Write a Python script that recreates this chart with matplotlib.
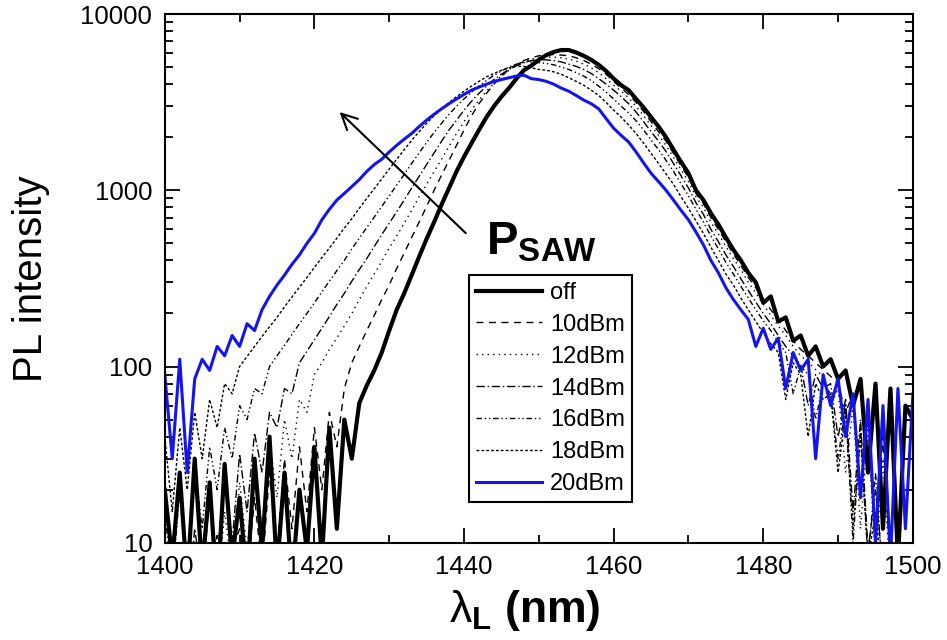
import numpy as np
import matplotlib
matplotlib.use("Agg")
import matplotlib.pyplot as plt
from matplotlib.ticker import LogLocator, MultipleLocator, NullFormatter

plt.rcParams["font.family"] = ["Liberation Sans", "DejaVu Sans"]
plt.rcParams["mathtext.fontset"] = "custom"
plt.rcParams["mathtext.rm"] = "Liberation Sans"
plt.rcParams["mathtext.bf"] = "Liberation Sans:bold"
plt.rcParams["mathtext.it"] = "Liberation Sans:italic"

# wavelength grid of the spectra (nm)
wavelength = np.arange(1400, 1501)

# PL spectra, one value per nm from 1400 to 1500
off = [20, 8, 25, 6, 30, 7, 22, 5, 28, 8,
       18, 6, 30, 9, 40, 7, 25, 6, 20, 9,
       35, 8, 45, 12, 50, 30, 62, 78, 95, 120,
       160, 210, 260, 330, 420, 530, 660, 830, 1030, 1280,
       1550, 1850, 2200, 2600, 3000, 3400, 3800, 4300, 4800, 5100,
       5500, 5850, 6100, 6250, 6250, 6050, 5800, 5500, 5150, 4750,
       4300, 3950, 3700, 3300, 2950, 2600, 2300, 2000, 1700, 1450,
       1250, 1000, 880, 740, 640, 540, 460, 400, 340, 300,
       230, 250, 180, 190, 140, 150, 115, 130, 100, 110,
       85, 95, 60, 85, 25, 80, 12, 75, 8, 60,
       50]

p10 = [6, 9, 5, 10, 6, 8, 5, 11, 6, 9,
       12, 6, 18, 7, 25, 9, 30, 12, 35, 15,
       45, 20, 55, 35, 75, 105, 130, 160, 195, 240,
       290, 360, 440, 540, 660, 810, 1000, 1220, 1480, 1800,
       2200, 2650, 3100, 3550, 4000, 4450, 4850, 5200, 5450, 5650,
       5800, 5850, 5900, 5850, 5800, 5650, 5450, 5200, 4900, 4550,
       4150, 3800, 3500, 3150, 2800, 2450, 2150, 1900, 1620, 1380,
       1180, 960, 840, 700, 600, 510, 435, 375, 320, 280,
       240, 210, 185, 160, 140, 125, 115, 105, 96, 88,
       80, 55, 70, 20, 50, 9, 40, 7, 8, 6,
       5]

p12 = [5, 7, 4, 8, 5, 9, 10, 5, 15, 7,
       22, 9, 30, 12, 38, 18, 50, 30, 65, 55,
       90, 105, 125, 145, 170, 200, 240, 285, 335, 395,
       470, 550, 650, 770, 920, 1080, 1280, 1500, 1780, 2100,
       2450, 2850, 3250, 3650, 4050, 4450, 4800, 5100, 5350, 5550,
       5650, 5700, 5700, 5650, 5550, 5400, 5200, 4950, 4650, 4300,
       3950, 3650, 3350, 3000, 2650, 2330, 2050, 1800, 1540, 1310,
       1120, 920, 800, 660, 565, 480, 410, 355, 300, 262,
       225, 195, 170, 150, 130, 115, 106, 96, 88, 60,
       75, 25, 60, 12, 45, 8, 30, 6, 7, 5,
       5]

p14 = [5, 6, 8, 4, 12, 6, 18, 8, 25, 10,
       32, 15, 42, 25, 55, 45, 75, 70, 105, 122,
       142, 165, 192, 225, 260, 305, 355, 410, 480, 560,
       650, 755, 880, 1030, 1200, 1400, 1630, 1900, 2200, 2500,
       2850, 3200, 3550, 3900, 4250, 4550, 4850, 5100, 5300, 5450,
       5500, 5500, 5450, 5350, 5200, 5050, 4850, 4600, 4300, 4000,
       3700, 3400, 3100, 2780, 2450, 2150, 1900, 1660, 1420, 1210,
       1030, 850, 730, 600, 510, 430, 370, 315, 270, 232,
       200, 175, 150, 130, 115, 102, 60, 90, 75, 80,
       40, 65, 15, 50, 9, 20, 7, 6, 5, 5,
       5]

p16 = [15, 6, 20, 8, 28, 12, 35, 20, 45, 30,
       60, 50, 75, 70, 100, 115, 132, 152, 175, 200,
       230, 265, 305, 350, 400, 465, 535, 615, 705, 810,
       930, 1070, 1230, 1420, 1630, 1870, 2130, 2400, 2700, 3000,
       3300, 3600, 3900, 4200, 4500, 4750, 5000, 5200, 5350, 5350,
       5300, 5250, 5150, 5000, 4850, 4650, 4450, 4200, 3900, 3600,
       3300, 3000, 2750, 2480, 2200, 1930, 1700, 1480, 1280, 1090,
       930, 780, 660, 550, 465, 390, 335, 285, 245, 210,
       182, 160, 138, 120, 70, 100, 90, 50, 80, 70,
       30, 60, 10, 45, 8, 25, 6, 5, 5, 5,
       5]

p18 = [40, 15, 45, 20, 55, 30, 65, 45, 80, 70,
       100, 114, 130, 148, 168, 190, 218, 248, 282, 320,
       365, 415, 470, 535, 610, 690, 790, 900, 1020, 1160,
       1320, 1500, 1700, 1920, 2150, 2400, 2650, 2900, 3150, 3400,
       3650, 3900, 4150, 4400, 4600, 4800, 4950, 5050, 5050, 4950,
       4850, 4800, 4700, 4550, 4350, 4150, 3950, 3700, 3450, 3150,
       2850, 2600, 2350, 2100, 1850, 1620, 1420, 1240, 1080, 920,
       790, 670, 570, 475, 400, 335, 290, 245, 210, 180,
       155, 135, 120, 65, 105, 90, 40, 80, 65, 70,
       25, 55, 12, 40, 8, 15, 6, 5, 5, 5,
       5]

p20 = [90, 30, 110, 25, 85, 110, 95, 130, 115, 150,
       130, 175, 160, 210, 250, 290, 330, 380, 430, 500,
       570, 680, 780, 880, 960, 1050, 1150, 1280, 1400, 1500,
       1650, 1800, 1950, 2100, 2300, 2500, 2700, 2900, 3100, 3300,
       3500, 3700, 3850, 4000, 4150, 4250, 4350, 4450, 4500, 4300,
       4250, 4150, 4000, 3800, 3650, 3450, 3250, 3100, 2900, 2550,
       2250, 2050, 1880, 1650, 1430, 1250, 1120, 1000, 880, 770,
       680, 580, 490, 400, 340, 280, 240, 210, 185, 130,
       165, 125, 145, 75, 120, 95, 110, 30, 90, 60,
       85, 40, 70, 18, 65, 10, 60, 8, 75, 12,
       70]

labels = ["off", "10dBm", "12dBm", "14dBm", "16dBm", "18dBm", "20dBm"]

fig = plt.figure(figsize=(9.47, 6.4), dpi=100)
ax = fig.add_axes([0.174, 0.152, 0.790, 0.826])

# SAW-on spectra, thin black with different dash patterns
styles = [(0, (5, 4)), (0, (1, 3)), (0, (6, 2, 1, 2)),
          (0, (4, 2, 1, 2, 1, 2)), (0, (2, 1.5))]
handles = {}
for lab, vals, ls in zip(labels[1:6], [p10, p12, p14, p16, p18], styles):
    handles[lab], = ax.plot(wavelength, vals, color="black", lw=1.0, ls=ls)

handles["off"], = ax.plot(wavelength, off, color="black", lw=3.0)
handles["20dBm"], = ax.plot(wavelength, p20, color="#1414f0", lw=2.2)

ax.set_yscale("log")
ax.set_xlim(1400, 1500)
ax.set_ylim(10, 10000)

ax.xaxis.set_major_locator(MultipleLocator(20))
ax.xaxis.set_minor_locator(MultipleLocator(10))
ax.set_yticks([10, 100, 1000, 10000])
ax.set_yticklabels(["10", "100", "1000", "10000"])
ax.yaxis.set_minor_locator(LogLocator(base=10, subs=np.arange(2, 10)))
ax.yaxis.set_minor_formatter(NullFormatter())

ax.tick_params(which="both", direction="in", top=True, right=True, width=1.3)
ax.tick_params(which="major", length=11, labelsize=18.5)
ax.tick_params(which="minor", length=6)
ax.tick_params(axis="x", pad=9)
ax.tick_params(axis="y", pad=9)
for sp in ax.spines.values():
    sp.set_linewidth(1.5)

ax.set_ylabel("PL intensity", fontsize=29, labelpad=22)
ax.set_xlabel("λ$_\\mathbf{L}$ $\\mathbf{(nm)}$", fontsize=32)
ax.xaxis.set_label_coords(0.481, -0.085)

# arrow showing increasing SAW power
ax.annotate("", xy=(1423.1, 2850), xytext=(1440.5, 557),
            arrowprops=dict(arrowstyle="->", lw=1.5, color="black",
                            mutation_scale=28))
ax.text(1443, 430, "P$_\\mathbf{SAW}$", fontsize=34, fontweight="bold")

leg = ax.legend([handles[l] for l in labels], labels, loc="upper left",
                bbox_to_anchor=(0.406, 0.507), fontsize=17, handlelength=2.8,
                handletextpad=0.35, labelspacing=0.42, borderpad=0.3,
                borderaxespad=0, frameon=True, fancybox=False,
                edgecolor="black", framealpha=1)
leg.get_frame().set_linewidth(1.5)

fig.savefig("out.png", dpi=100)
